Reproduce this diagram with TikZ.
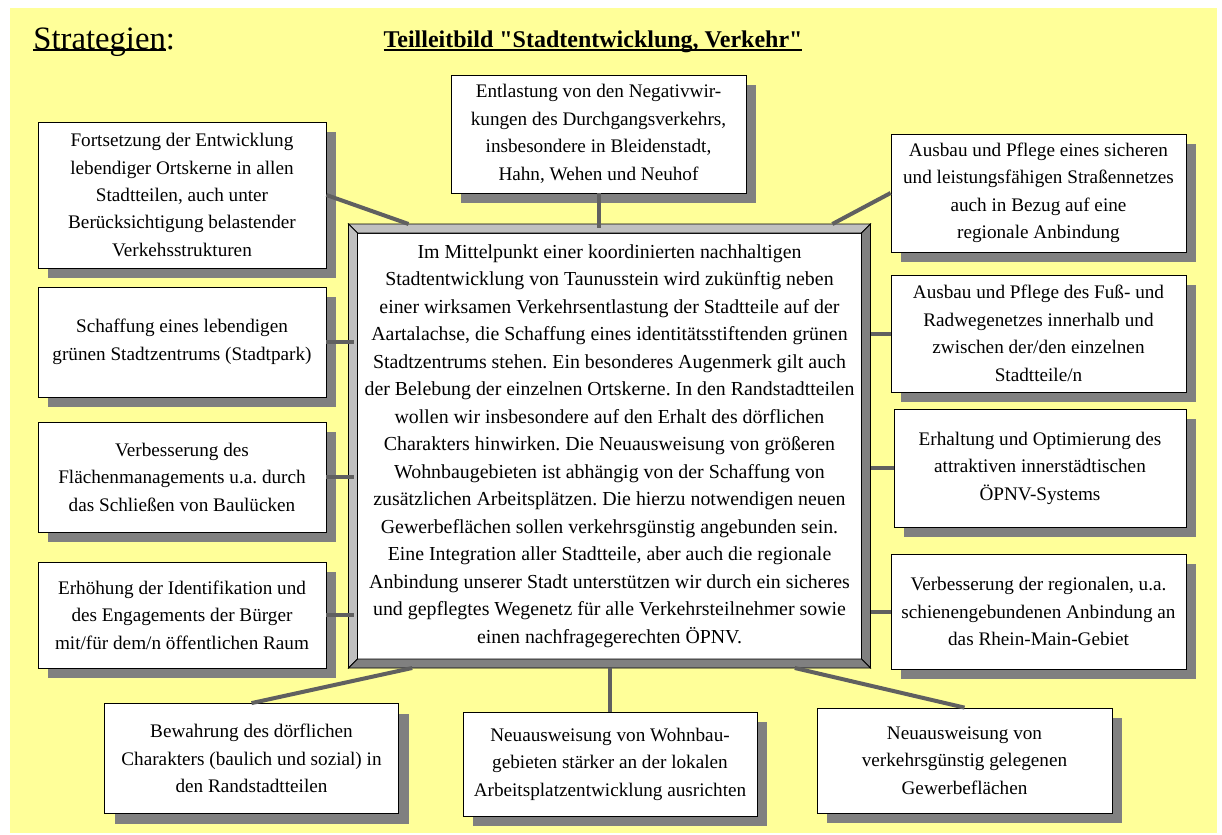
\documentclass[tikz,border=0pt]{standalone}
\usepackage{fontspec}
\setmainfont{Liberation Serif}[Ligatures=TeXOff]
\usetikzlibrary{calc, fit, shadows}
\definecolor{cyellow}{HTML}{FFFF99}
\definecolor{cshade}{HTML}{808080}
\definecolor{clight}{HTML}{C0C0C0}
\definecolor{clink}{HTML}{606060}
\frenchspacing
% underline that runs through the descenders
\newcommand{\uln}[2][0.1em]{\setbox0\hbox{#2}\rlap{\rule[-#1]{\wd0}{0.07em}}\box0}
\tikzset{
  every picture/.style={font=\fontsize{14.4}{20.6}\selectfont, line width=0.6pt},
  box/.style={draw=black, fill=white, align=center, inner sep=2pt,
    drop shadow={shadow xshift=7.5pt, shadow yshift=-7.5pt, fill=cshade, draw=none, opacity=1}},
  link/.style={draw=clink, line width=3pt},
  bevel/.style={draw=black, line width=0.6pt, fill=#1},
}

\begin{document}
\begin{tikzpicture}[x=0.75pt, y=-0.75pt,
    lbox/.style={box, minimum width=216pt},
    rbox/.style={box, minimum width=221.25pt},
    bbox/.style={box, minimum width=220.5pt},
    core/.style={draw=black, fill=white, align=center, inner sep=0pt, outer sep=0pt,
      font=\fontsize{14.9}{20.6}\selectfont, minimum width=378pt, minimum height=319.5pt}]
  \useasboundingbox (0,0) rectangle (1222,835);
  \fill[cyellow] (10,8) rectangle (1217,833);

  % ---- headings
  \node[anchor=base west, inner sep=0pt, font=\fontsize{24.5}{29}\selectfont] (head) at (33,49) {\uln[0.06em]{Strategien}:};
  \node[anchor=base, inner sep=0pt, font=\fontsize{18}{22}\selectfont\bfseries] (subhead) at (593,47)
    {\uln[0.17em]{Teilleitbild "Stadtentwicklung, Verkehr"}};

  % ---- left column
  \node[lbox, minimum height=109.5pt] (kerne) at (182,195)
    {Fortsetzung der Entwicklung\\lebendiger Ortskerne in allen\\Stadtteilen, auch unter\\Berücksichtigung belastender\\Verkehsstrukturen};
  \node[lbox, minimum height=82.5pt] (park) at (182,342)
    {Schaffung eines lebendigen\\grünen Stadtzentrums (Stadtpark)};
  \node[lbox, minimum height=82.5pt] (flaeche) at (182,477)
    {Verbesserung des\\Flächenmanagements u.a. durch\\das Schließen von Baulücken};
  \node[lbox, minimum height=79.5pt] (buerger) at (182,615)
    {Erhöhung der Identifikation und\\des Engagements der Bürger\\mit/für dem/n öffentlichen Raum};

  % ---- top
  \node[rbox, minimum height=88.5pt] (entlastung) at (598.5,134)
    {Entlastung von den Negativwir-\\kungen des Durchgangsverkehrs,\\insbesondere in Bleidenstadt,\\Hahn, Wehen und Neuhof};

  % ---- right column
  \node[rbox, minimum height=88.5pt] (strasse) at (1038.5,193)
    {Ausbau und Pflege eines sicheren\\und leistungsfähigen Straßennetzes\\auch in Bezug auf eine\\regionale Anbindung};
  \node[rbox, minimum height=87.75pt] (fuss) at (1038.5,333.5)
    {Ausbau und Pflege des Fuß- und\\Radwegenetzes innerhalb und\\zwischen der/den einzelnen\\Stadtteile/n};
  \node[rbox, minimum width=219pt, minimum height=88.5pt] (oepnv) at (1040,468)
    {Erhaltung und Optimierung des\\attraktiven innerstädtischen\\ÖPNV-Systems};
  \node[rbox, minimum height=86.25pt] (schiene) at (1038.5,611.5)
    {Verbesserung der regionalen, u.a.\\schienengebundenen Anbindung an\\das Rhein-Main-Gebiet};

  % ---- bottom row
  \node[bbox, minimum height=82.5pt] (bewahrung) at (251.5,758.5)
    {Bewahrung des dörflichen\\Charakters (baulich und sozial) in\\den Randstadtteilen};
  \node[bbox, minimum height=78pt] (wohnbau) at (610,764)
    {Neuausweisung von Wohnbau-\\gebieten stärker an der lokalen\\Arbeitsplatzentwicklung ausrichten};
  \node[rbox, minimum height=78.75pt] (gewerbe) at (964.5,760.5)
    {Neuausweisung von\\verkehrsgünstig gelegenen\\Gewerbeflächen};

  % ---- central statement in a bevelled frame
  \node[core] (core) at (609.5,446)
    {Im Mittelpunkt einer koordinierten nachhaltigen\\
     Stadtentwicklung von Taunusstein wird zukünftig neben\\
     einer wirksamen Verkehrsentlastung der Stadtteile auf der\\
     Aartalachse, die Schaffung eines identitätsstiftenden grünen\\
     Stadtzentrums stehen. Ein besonderes Augenmerk gilt auch\\
     der Belebung der einzelnen Ortskerne. In den Randstadtteilen\\
     wollen wir insbesondere auf den Erhalt des dörflichen\\
     Charakters hinwirken. Die Neuausweisung von größeren\\
     Wohnbaugebieten ist abhängig von der Schaffung von\\
     zusätzlichen Arbeitsplätzen. Die hierzu notwendigen neuen\\
     Gewerbeflächen sollen verkehrsgünstig angebunden sein.\\
     Eine Integration aller Stadtteile, aber auch die regionale\\
     Anbindung unserer Stadt unterstützen wir durch ein sicheres\\
     und gepflegtes Wegenetz für alle Verkehrsteilnehmer sowie\\
     einen nachfragegerechten ÖPNV.};
  \node[fit=(core), inner sep=6.75pt, outer sep=0pt] (frame) {};
  \filldraw[bevel=clight] (frame.north west) -- (frame.north east) -- (core.north east) -- (core.north west) -- cycle;
  \filldraw[bevel=clight] (frame.north west) -- (core.north west) -- (core.south west) -- (frame.south west) -- cycle;
  \filldraw[bevel=cshade] (frame.north east) -- (frame.south east) -- (core.south east) -- (core.north east) -- cycle;
  \filldraw[bevel=cshade] (frame.south west) -- (frame.south east) -- (core.south east) -- (core.south west) -- cycle;

  % ---- connectors
  \draw[link] (kerne.east) -- ($(frame.north west)!0.115!(frame.north east)$);
  \draw[link] (entlastung.south) -- ($(entlastung.south |- frame.north)+(0,4)$);
  \draw[link] (strasse.west) -- ($(frame.north west)!0.927!(frame.north east)$);
  \foreach \n in {park, flaeche, buerger}
    { \draw[link] (\n.east) -- ($(\n.east -| frame.west)+(5,0)$); }
  \foreach \n in {fuss, oepnv, schiene}
    { \draw[link] (\n.west) -- (\n.west -| frame.east); }
  \draw[link] (bewahrung.north) -- ($(frame.south west)!0.122!(frame.south east)$);
  \draw[link] (wohnbau.north) -- (wohnbau.north |- frame.south);
  \draw[link] (gewerbe.north) -- ($(frame.south west)!0.855!(frame.south east)$);
\end{tikzpicture}
\end{document}
